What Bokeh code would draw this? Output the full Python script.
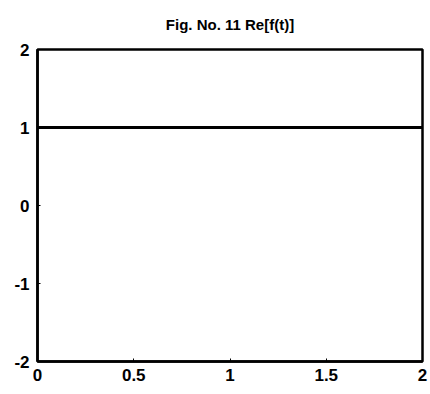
from bokeh.plotting import figure
from bokeh.models import FixedTicker
from bokeh.embed import file_html
from bokeh.resources import INLINE

t = [0, 2]
re_f = [1, 1]
x_ticks = [0, 0.5, 1, 1.5, 2]
y_ticks = [-2, -1, 0, 1, 2]
y_tick_labels = {-2: "-2", -1: "-1", 0: "0", 1: "1", 2: "2"}

p = figure(width=430, height=394, x_range=(0, 2), y_range=(-2, 2),
           output_backend="svg", toolbar_location=None,
           min_border_left=37, min_border_right=8, min_border_top=0, min_border_bottom=33)
p.title.text = "Fig. No. 11 Re[f(t)]"
p.title.align = "center"
p.title.vertical_align = "top"
p.title.text_font = "Liberation Sans"
p.title.text_font_size = "15px"
p.title.text_font_style = "bold"
p.title.text_color = "black"
p.title.standoff = 30

p.line(t, re_f, line_color="black", line_width=3)

p.xgrid.visible = False
p.ygrid.visible = False
p.outline_line_color = "black"
p.outline_line_width = 2.5
for ax in (p.xaxis, p.yaxis):
    ax.axis_line_color = "black"
    ax.axis_line_width = 2.5
    ax.major_tick_in = 3
    ax.major_tick_out = 0
    ax.minor_tick_line_color = None
    ax.major_label_text_font = "Liberation Sans"
    ax.major_label_text_font_size = "17px"
    ax.major_label_text_font_style = "bold"
    ax.major_label_text_color = "black"
p.xaxis.ticker = FixedTicker(ticks=x_ticks)
p.yaxis.ticker = FixedTicker(ticks=y_ticks)
p.yaxis.major_label_overrides = y_tick_labels
p.xaxis.major_label_standoff = 7
p.yaxis.major_label_standoff = 8

open("out.html", "w").write(file_html(p, INLINE))
